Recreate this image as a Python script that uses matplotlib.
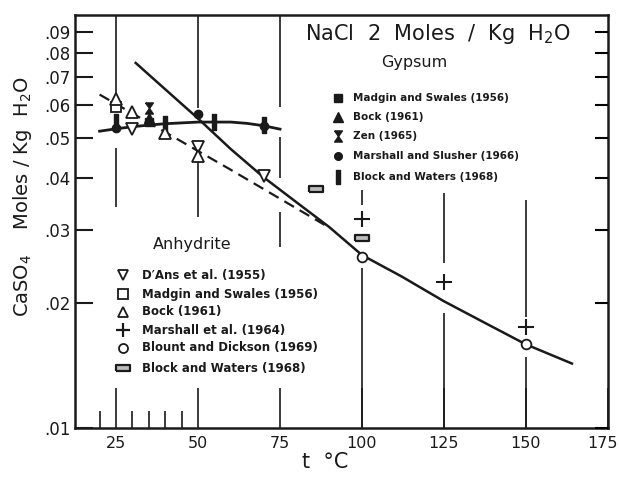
import numpy as np
import matplotlib
matplotlib.use("Agg")
import matplotlib.pyplot as plt
import matplotlib.transforms as mtransforms
from matplotlib.ticker import FixedLocator, NullLocator

# ---------------- data ----------------
# Gypsum smooth curve
gyp_curve_t = [20, 25, 30, 35, 40, 50, 60, 65, 70, 75]
gyp_curve_y = [0.0519, 0.0526, 0.0532, 0.0537, 0.0541, 0.0546, 0.0546, 0.0542, 0.0535, 0.0525]

# Anhydrite smooth curve (solid)
anh_curve_t = [31, 40, 50, 60, 70, 80, 90, 100, 112, 125, 137, 150, 164]
anh_curve_y = [0.0758, 0.0655, 0.0557, 0.0470, 0.0402, 0.0350, 0.0305, 0.0261,
               0.0232, 0.0202, 0.0180, 0.0159, 0.0143]

# Anhydrite dashed trend
anh_dash_t = [20, 60, 90]
anh_dash_y = [0.0636, 0.0419, 0.0304]

# Gypsum data points
gyp_madgin_t = [35]
gyp_madgin_y = [0.0545]
gyp_bock_t = [35]
gyp_bock_y = [0.0560]
gyp_zen_t = [35]
gyp_zen_y = [0.0590]
gyp_marshall_t = [25, 50, 70]
gyp_marshall_y = [0.0527, 0.0570, 0.0535]
gyp_block_t = [25, 40, 55, 70]
gyp_block_y = [0.0545, 0.0541, 0.0546, 0.0537]

# Anhydrite data points
anh_dans_t = [30, 50, 70]
anh_dans_y = [0.0525, 0.0475, 0.0405]
anh_madgin_t = [25]
anh_madgin_y = [0.0595]
anh_bock_t = [25, 30, 40, 50]
anh_bock_y = [0.0620, 0.0577, 0.0515, 0.0452]
anh_marshall_t = [100, 125, 150]
anh_marshall_y = [0.0319, 0.0225, 0.0175]
anh_blount_t = [100, 150]
anh_blount_y = [0.0258, 0.0159]
anh_block_t = [86, 100]
anh_block_y = [0.0377, 0.0287]

x_ticks = [25, 50, 75, 100, 125, 150, 175]
x_tick_labels = ["25", "50", "75", "100", "125", "150", "175"]
x_minor = [20, 30, 35, 40, 45]
y_ticks = [0.01, 0.02, 0.03, 0.04, 0.05, 0.06, 0.07, 0.08, 0.09]
y_tick_labels = [".01", ".02", ".03", ".04", ".05", ".06", ".07", ".08", ".09"]

gyp_legend = ["Madgin and Swales (1956)", "Bock (1961)", "Zen (1965)",
              "Marshall and Slusher (1966)", "Block and Waters (1968)"]
anh_legend = ["D\u2032Ans et al. (1955)", "Madgin and Swales (1956)", "Bock (1961)",
              "Marshall et al. (1964)", "Blount and Dickson (1969)", "Block and Waters (1968)"]

# decorative broken vertical guide lines (x, y_start, y_end); None = axis edge
guide_segments = [
    (25, 0.0628, None), (25, 0.0340, 0.0473),
    (50, 0.0590, None), (50, 0.0322, 0.0442),
    (75, 0.0594, None), (75, 0.0400, 0.0503), (75, 0.0273, 0.0332),
    (100, 0.0345, 0.0375), (100, None, 0.0243),
    (125, 0.0250, 0.0368), (125, None, 0.0189),
    (150, 0.0185, 0.0354), (150, None, 0.0148),
]

# ---------------- style ----------------
plt.rcParams['font.family'] = ['DejaVu Sans']
INK = "#1a1a1a"
YMIN, YMAX = 0.01, 0.0989
XMIN, XMAX = 12.5, 175

hourglass = [(-0.7, 1), (0.7, 1), (0, 0), (0.7, -1), (-0.7, -1), (0, 0), (-0.7, 1)]
vbar = [(-0.32, -1), (0.32, -1), (0.32, 1), (-0.32, 1), (-0.32, -1)]
hbar = [(-1, -0.42), (1, -0.42), (1, 0.42), (-1, 0.42), (-1, -0.42)]

fig = plt.figure(figsize=(6.19, 4.79), dpi=100)
ax = fig.add_axes([75/619, 1-428/479, 533/619, 413/479])
ax.set_yscale('log')
ax.set_xlim(XMIN, XMAX)
ax.set_ylim(YMIN, YMAX)

for s in ax.spines.values():
    s.set_linewidth(1.8)
    s.set_color(INK)

# guide lines
for x, a, b in guide_segments:
    if b is None:
        lo, hi = a, YMAX
    elif a is None:
        lo, hi = YMIN, b
    else:
        lo, hi = a, b
    ax.vlines(x, lo, hi, colors=INK, linewidth=1.2, zorder=1)

# curves
ax.plot(gyp_curve_t, gyp_curve_y, color=INK, lw=2.0, zorder=2)
ax.plot(anh_curve_t, anh_curve_y, color=INK, lw=1.8, zorder=2)
ax.plot(anh_dash_t, anh_dash_y, color=INK, lw=1.6, ls=(0, (5, 3)), zorder=2)

# gypsum points
ax.plot(gyp_madgin_t, gyp_madgin_y, 's', ms=6, color=INK, zorder=4)
ax.plot(gyp_bock_t, gyp_bock_y, '^', ms=6.5, color=INK, zorder=4)
ax.plot(gyp_zen_t, gyp_zen_y, marker=hourglass, ls='none', ms=8, color=INK, zorder=4)
ax.plot(gyp_marshall_t, gyp_marshall_y, 'o', ms=6, color=INK, zorder=4)
ax.plot(gyp_block_t, gyp_block_y, marker=vbar, ls='none', ms=11, color=INK, zorder=4)

# anhydrite points
open_kw = dict(ls='none', mfc='white', mec=INK, mew=1.3, zorder=5)
ax.plot(anh_dans_t, anh_dans_y, marker='v', ms=8, **open_kw)
ax.plot(anh_madgin_t, anh_madgin_y, marker='s', ms=7, **open_kw)
ax.plot(anh_bock_t, anh_bock_y, marker='^', ms=8, **open_kw)
ax.plot(anh_marshall_t, anh_marshall_y, marker='+', ls='none', ms=11, mew=1.5, color=INK, zorder=5)
ax.plot(anh_blount_t, anh_blount_y, marker='o', ms=7, **open_kw)
ax.plot(anh_block_t, anh_block_y, marker=hbar, ms=10, ls='none', mfc='#bbbbbb', mec=INK, mew=1.6, zorder=5)

# ticks
ax.xaxis.set_major_locator(FixedLocator(x_ticks))
ax.set_xticklabels(x_tick_labels)
ax.xaxis.set_minor_locator(FixedLocator(x_minor))
ax.tick_params(axis='x', which='major', direction='in', length=29, width=1.2,
               labelsize=11.5, pad=6, colors=INK)
ax.tick_params(axis='x', which='minor', direction='in', length=12, width=1.2, colors=INK)
ax.yaxis.set_major_locator(FixedLocator(y_ticks))
ax.yaxis.set_minor_locator(NullLocator())
ax.set_yticklabels(y_tick_labels)
ax.tick_params(axis='y', which='major', direction='in', length=13, width=1.5,
               labelsize=12, pad=3, colors=INK)
# pull the last x label slightly inward so it stays within the figure
last = ax.get_xticklabels()[-1]
last.set_transform(last.get_transform() +
                   mtransforms.ScaledTranslation(-4/72, 0, fig.dpi_scale_trans))

ax2 = ax.twinx()
ax2.set_yscale('log')
ax2.set_ylim(YMIN, YMAX)
ax2.yaxis.set_major_locator(FixedLocator(y_ticks))
ax2.yaxis.set_minor_locator(NullLocator())
ax2.tick_params(axis='y', which='major', direction='in', length=9.5, width=1.5,
                labelright=False)
for s in ax2.spines.values():
    s.set_visible(False)

# title & labels
ax.text(0.681, 0.955, "NaCl  2  Moles  /  Kg  H$_2$O", transform=ax.transAxes,
        ha='center', va='center', fontsize=15, color=INK)
ax.text(0.636, 0.884, "Gypsum", transform=ax.transAxes, ha='center', va='center',
        fontsize=11.5, color=INK)
ax.text(0.22, 0.4455, "Anhydrite", transform=ax.transAxes, ha='center', va='center',
        fontsize=11.5, color=INK)

fig.text(0.036, 0.589, "CaSO$_4$    Moles / Kg  H$_2$O", rotation=90,
         ha='center', va='center', fontsize=14, color=INK)
fig.text(0.525, 0.035, "t  \u00b0C", ha='center', va='center', fontsize=15, color=INK)

# gypsum legend
g_rows = [0.799, 0.753, 0.707, 0.659, 0.608]
g_mx, g_tx = 0.493, 0.5216
g_markers = [dict(marker='s', ms=6, color=INK), dict(marker='^', ms=6.5, color=INK),
             dict(marker=hourglass, ms=8, color=INK), dict(marker='o', ms=5.5, color=INK),
             dict(marker=vbar, ms=10, color=INK)]
for yy, lab, mk in zip(g_rows, gyp_legend, g_markers):
    ax.plot([g_mx], [yy], transform=ax.transAxes, ls='none', clip_on=False, **mk)
    ax.text(g_tx, yy, lab, transform=ax.transAxes, ha='left', va='center',
            fontsize=7.5, fontweight='bold', color=INK)

# anhydrite legend
a_rows = [0.370, 0.324, 0.281, 0.237, 0.194, 0.145]
a_mx, a_tx = 0.09, 0.1257
a_markers = [dict(marker='v', ms=7, mfc='white', mec=INK, mew=1.3),
             dict(marker='s', ms=6.5, mfc='white', mec=INK, mew=1.3),
             dict(marker='^', ms=7, mfc='white', mec=INK, mew=1.3),
             dict(marker='+', ms=10, mew=1.6, color=INK),
             dict(marker='o', ms=6.5, mfc='white', mec=INK, mew=1.3),
             dict(marker=hbar, ms=10, mfc='#bbbbbb', mec=INK, mew=1.6)]
for yy, lab, mk in zip(a_rows, anh_legend, a_markers):
    ax.plot([a_mx], [yy], transform=ax.transAxes, ls='none', clip_on=False, **mk)
    ax.text(a_tx, yy, lab, transform=ax.transAxes, ha='left', va='center',
            fontsize=8.5, fontweight='bold', color=INK)

fig.savefig("out.png", dpi=100, facecolor='white')
